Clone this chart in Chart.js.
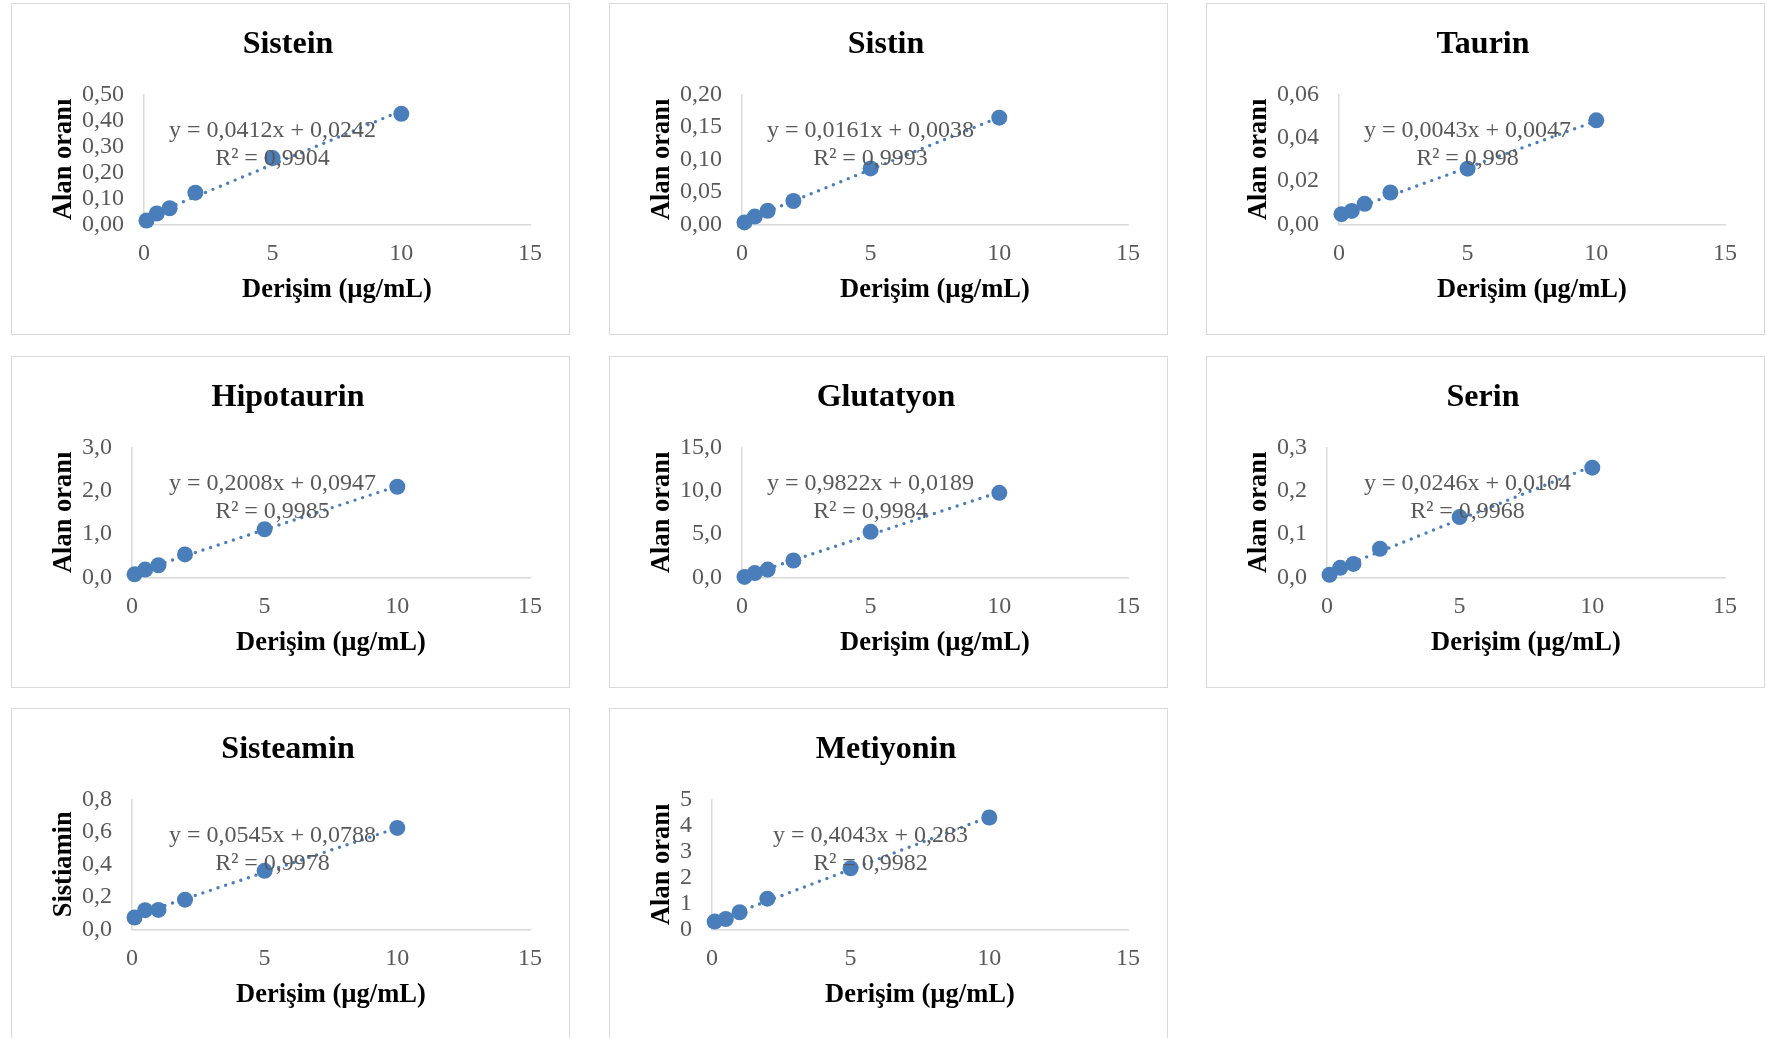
<!DOCTYPE html>
<html>
<head>
<meta charset="utf-8">
<script src="https://cdn.jsdelivr.net/npm/chart.js@4/dist/chart.umd.min.js"></script>
<style>
  html, body { margin: 0; padding: 0; background: #fff; }
  body { width: 1767px; height: 1038px; overflow: hidden; position: relative; }
  .panel {
    position: absolute;
    width: 559px;
    height: 332px;
    box-sizing: border-box;
    border: 1px solid #d9d9d9;
    background: #fff;
  }
  .panel canvas { display: block; }
</style>
</head>
<body>
<script>
/* ============================================================
   Calibration curves — 8 scatter panels with linear trendlines
   ============================================================ */

// ---------------------------------------------------------
// Data
// ---------------------------------------------------------
const CONCENTRATIONS = [0.1, 0.5, 1, 2, 5, 10];
const X_TICKS = [0, 5, 10, 15];

const NAMES = ['Sistein', 'Sistin', 'Taurin', 'Hipotaurin', 'Glutatyon', 'Serin', 'Sisteamin', 'Metiyonin'];
const Y_TITLES = ['Alan oranı', 'Alan oranı', 'Alan oranı', 'Alan oranı', 'Alan oranı', 'Alan oranı', 'Sistiamin', 'Alan oranı'];

const SISTEIN = [0.015, 0.042, 0.062, 0.122, 0.255, 0.425];
const SISTIN = [0.003, 0.012, 0.021, 0.036, 0.086, 0.164];
const TAURIN = [0.0047, 0.0062, 0.0095, 0.0147, 0.0257, 0.0480];
const HIPOTAURIN = [0.07, 0.18, 0.28, 0.53, 1.11, 2.09];
const GLUTATYON = [0.05, 0.50, 0.90, 1.95, 5.25, 9.75];
const SERIN = [0.006, 0.022, 0.031, 0.066, 0.139, 0.253];
const SISTEAMIN = [0.073, 0.118, 0.120, 0.183, 0.360, 0.624];
const METIYONIN = [0.30, 0.40, 0.66, 1.18, 2.35, 4.30];
const SERIES = [SISTEIN, SISTIN, TAURIN, HIPOTAURIN, GLUTATYON, SERIN, SISTEAMIN, METIYONIN];

// trendline coefficients as printed on each panel
const SLOPES = [0.0412, 0.0161, 0.0043, 0.2008, 0.9822, 0.0246, 0.0545, 0.4043];
const INTERCEPTS = [0.0242, 0.0038, 0.0047, 0.0947, 0.0189, 0.0104, 0.0788, 0.283];
const EQUATIONS = [
  'y = 0,0412x + 0,0242', 'y = 0,0161x + 0,0038', 'y = 0,0043x + 0,0047',
  'y = 0,2008x + 0,0947', 'y = 0,9822x + 0,0189', 'y = 0,0246x + 0,0104',
  'y = 0,0545x + 0,0788', 'y = 0,4043x + 0,283',
];
const R2_LABELS = ['R² = 0,9904', 'R² = 0,9993', 'R² = 0,998', 'R² = 0,9985', 'R² = 0,9984', 'R² = 0,9968', 'R² = 0,9978', 'R² = 0,9982'];

// y axis tick labels
const Y_MAX = [0.5, 0.2, 0.06, 3, 15, 0.3, 0.8, 5];
const Y_STEP = [0.1, 0.05, 0.02, 1, 5, 0.1, 0.2, 1];
const Y_DECIMALS = [2, 2, 2, 1, 1, 1, 1, 0];

// ---------------------------------------------------------
// Styles
// ---------------------------------------------------------
const FONT = "'Liberation Serif', 'Times New Roman', serif";
const BLUE = '#4a7ebb';
const GREY_TEXT = '#595959';
const AXIS_LINE = '#d9d9d9';

const PANEL_W = 559;
const PANEL_H = 332;
const COL_X = [11, 609, 1206];
const ROW_Y = [3, 356, 708];

// equation label drawn at a fixed spot in each panel (Excel style)
const trendLabelPlugin = {
  id: 'trendLabel',
  afterDatasetsDraw(chart, args, opts) {
    const ctx = chart.ctx;
    ctx.save();
    ctx.font = '24px ' + FONT;
    ctx.fillStyle = GREY_TEXT;
    ctx.textAlign = 'center';
    ctx.textBaseline = 'middle';
    ctx.fillText(opts.eq, 260.5, 126.5);
    ctx.fillText(opts.r2, 260.5, 154.5);
    ctx.restore();
  },
};

const fmt = (v, d) => v.toFixed(d).replace('.', ',');

function createPanel(i) {
  const div = document.createElement('div');
  div.className = 'panel';
  div.style.left = COL_X[i % 3] + 'px';
  div.style.top = ROW_Y[Math.floor(i / 3)] + 'px';
  const canvas = document.createElement('canvas');
  canvas.width = PANEL_W - 2;
  canvas.height = PANEL_H - 2;
  div.appendChild(canvas);
  document.body.appendChild(div);

  const points = CONCENTRATIONS.map((x, k) => ({ x, y: SERIES[i][k] }));
  const x0 = CONCENTRATIONS[0];
  const x1 = CONCENTRATIONS[CONCENTRATIONS.length - 1];
  const trend = [
    { x: x0, y: SLOPES[i] * x0 + INTERCEPTS[i] },
    { x: x1, y: SLOPES[i] * x1 + INTERCEPTS[i] },
  ];

  return new Chart(canvas.getContext('2d'), {
    type: 'scatter',
    data: {
      datasets: [
        {
          data: trend,
          showLine: true,
          borderColor: BLUE,
          borderWidth: 3.4,
          borderDash: [0, 8],
          borderCapStyle: 'round',
          pointRadius: 0,
          clip: false,
        },
        {
          data: points,
          backgroundColor: BLUE,
          borderColor: BLUE,
          pointRadius: 8,
          pointBorderWidth: 0,
          clip: false,
        },
      ],
    },
    options: {
      responsive: false,
      animation: false,
      events: [],
      layout: { padding: { left: 34, right: 39, top: 0, bottom: 19.7 } },
      plugins: {
        legend: { display: false },
        tooltip: { enabled: false },
        title: {
          display: true,
          text: NAMES[i],
          color: '#000',
          font: { family: FONT, size: 32, weight: 'bold', lineHeight: 1.2 },
          padding: { top: 22, bottom: 29.9 },
        },
        trendLabel: { eq: EQUATIONS[i], r2: R2_LABELS[i] },
      },
      scales: {
        x: {
          type: 'linear',
          min: X_TICKS[0],
          max: X_TICKS[X_TICKS.length - 1],
          afterBuildTicks: (s) => { s.ticks = X_TICKS.map(v => ({ value: v })); },
          grid: { display: false, drawTicks: false },
          border: { display: true, color: AXIS_LINE, width: 1.5 },
          ticks: {
            color: GREY_TEXT,
            padding: 14.9,
            maxRotation: 0,
            autoSkip: false,
            font: { family: FONT, size: 24, lineHeight: 1.2 },
          },
          title: {
            display: true,
            text: 'Derişim (µg/mL)',
            color: '#000',
            font: { family: FONT, size: 26.5, weight: 'bold', lineHeight: 1.2 },
            padding: { top: -8.5, bottom: 8 },
          },
        },
        y: {
          type: 'linear',
          min: 0,
          max: Y_MAX[i],
          grid: { display: false, drawTicks: false },
          border: { display: true, color: AXIS_LINE, width: 1.5 },
          ticks: {
            stepSize: Y_STEP[i],
            color: GREY_TEXT,
            padding: 20,
            autoSkip: false,
            font: { family: FONT, size: 24, lineHeight: 1.2 },
            callback: (v) => fmt(v, Y_DECIMALS[i]),
          },
          title: {
            display: true,
            text: Y_TITLES[i],
            color: '#000',
            font: { family: FONT, size: 26.5, weight: 'bold', lineHeight: 1.2 },
            padding: { top: 2, bottom: -17.9 },
          },
        },
      },
    },
    plugins: [trendLabelPlugin],
  });
}

NAMES.forEach((_, i) => createPanel(i));
</script>
</body>
</html>
